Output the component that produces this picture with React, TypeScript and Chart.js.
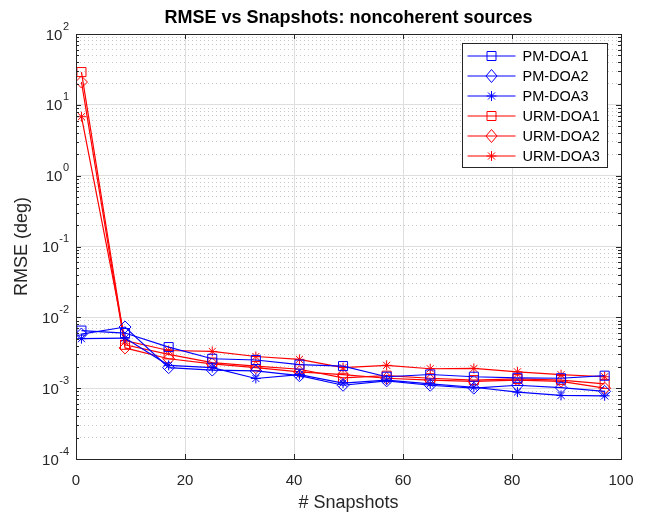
import { useEffect, useRef } from 'react';
import { Chart, registerables } from 'chart.js';

Chart.register(...registerables);

const titleText = 'RMSE vs Snapshots: noncoherent sources';
const xTitle = '# Snapshots';
const yTitle = 'RMSE (deg)';

const snapshots = [1, 9, 17, 25, 33, 41, 49, 57, 65, 73, 81, 89, 97];
const pmDoa1 = [6.5e-3, 6.0e-3, 3.8e-3, 2.6e-3, 2.5e-3, 2.15e-3, 2.05e-3, 1.45e-3, 1.56e-3, 1.45e-3, 1.4e-3, 1.38e-3, 1.5e-3];
const pmDoa2 = [5.8e-3, 7.3e-3, 1.95e-3, 1.8e-3, 1.75e-3, 1.5e-3, 1.1e-3, 1.27e-3, 1.1e-3, 1.0e-3, 1.1e-3, 1.02e-3, 0.9e-3];
const pmDoa3 = [5.0e-3, 5.1e-3, 2.1e-3, 1.95e-3, 1.37e-3, 1.55e-3, 1.18e-3, 1.3e-3, 1.15e-3, 1.03e-3, 0.88e-3, 0.79e-3, 0.78e-3];
const urmDoa1 = [29, 4.1e-3, 3.0e-3, 2.3e-3, 2.05e-3, 1.85e-3, 1.4e-3, 1.5e-3, 1.38e-3, 1.3e-3, 1.35e-3, 1.3e-3, 1.15e-3];
const urmDoa2 = [21, 3.7e-3, 2.6e-3, 2.2e-3, 1.95e-3, 1.7e-3, 1.55e-3, 1.38e-3, 1.3e-3, 1.25e-3, 1.3e-3, 1.25e-3, 1.0e-3];
const urmDoa3 = [6.8, 4.7e-3, 3.4e-3, 3.3e-3, 2.8e-3, 2.55e-3, 1.95e-3, 2.1e-3, 1.88e-3, 1.9e-3, 1.7e-3, 1.55e-3, 1.45e-3];

const seriesNames = ['PM-DOA1', 'PM-DOA2', 'PM-DOA3', 'URM-DOA1', 'URM-DOA2', 'URM-DOA3'];
const seriesValues = [pmDoa1, pmDoa2, pmDoa3, urmDoa1, urmDoa2, urmDoa3];
const seriesColors = ['#0000ff', '#0000ff', '#0000ff', '#ff0000', '#ff0000', '#ff0000'];
const seriesMarkers = ['rect', 'rectRot', 'star', 'rect', 'rectRot', 'star'];

const xTickValues = [0, 20, 40, 60, 80, 100];
const yExponents = [-4, -3, -2, -1, 0, 1, 2];
const yTickBase = '10';
const yTickExponentLabels = ['-4', '-3', '-2', '-1', '0', '1', '2'];

const FONT = "'Liberation Sans', Arial, Helvetica, sans-serif";
const AX = '#262626';

function isPow10(v: number) {
  const l = Math.log10(v);
  return Math.abs(l - Math.round(l)) < 1e-9;
}

function drawMarker(ctx: CanvasRenderingContext2D, style: string, x: number, y: number) {
  ctx.beginPath();
  if (style === 'rect') {
    ctx.rect(x - 4.5, y - 4.5, 9, 9);
  } else if (style === 'rectRot') {
    ctx.moveTo(x, y - 6.5);
    ctx.lineTo(x + 5.5, y);
    ctx.lineTo(x, y + 6.5);
    ctx.lineTo(x - 5.5, y);
    ctx.closePath();
  } else {
    const r = 5;
    for (let k = 0; k < 4; k++) {
      const a = (k * Math.PI) / 4;
      ctx.moveTo(x - r * Math.cos(a), y - r * Math.sin(a));
      ctx.lineTo(x + r * Math.cos(a), y + r * Math.sin(a));
    }
  }
  ctx.stroke();
}

const matlabPlugin = {
  id: 'matlabBox',
  afterDatasetsDraw(chart: any) {
    const { ctx, chartArea: ca, scales } = chart;
    const xs = scales.x;
    const ys = scales.y;
    ctx.save();
    ctx.strokeStyle = AX;
    ctx.lineWidth = 1;
    // inward ticks
    ctx.beginPath();
    ys.ticks.forEach((t: any) => {
      const py = Math.round(ys.getPixelForValue(t.value)) + 0.5;
      const len = isPow10(t.value) ? 5 : 3;
      ctx.moveTo(ca.left, py);
      ctx.lineTo(ca.left + len, py);
      ctx.moveTo(ca.right, py);
      ctx.lineTo(ca.right - len, py);
    });
    xs.ticks.forEach((t: any) => {
      const px = Math.round(xs.getPixelForValue(t.value)) + 0.5;
      ctx.moveTo(px, ca.bottom);
      ctx.lineTo(px, ca.bottom - 5);
      ctx.moveTo(px, ca.top);
      ctx.lineTo(px, ca.top + 5);
    });
    ctx.stroke();
    // box
    ctx.strokeRect(Math.round(ca.left) + 0.5, Math.round(ca.top) + 0.5, Math.round(ca.right - ca.left), Math.round(ca.bottom - ca.top));

    // y tick labels with superscript exponents
    ctx.fillStyle = AX;
    ctx.textBaseline = 'alphabetic';
    ctx.textAlign = 'right';
    yExponents.forEach((e, i) => {
      const py = ys.getPixelForValue(Math.pow(10, e));
      const rightX = ca.left - 7;
      ctx.font = `11px ${FONT}`;
      const expText = yTickExponentLabels[i];
      const ew = ctx.measureText(expText).width;
      ctx.fillText(expText, rightX, py - 4.5);
      ctx.font = `15px ${FONT}`;
      ctx.fillText(yTickBase, rightX - ew - 0.5, py + 5.5);
    });

    // title
    ctx.fillStyle = '#000000';
    ctx.textAlign = 'center';
    ctx.textBaseline = 'middle';
    ctx.font = `bold 18px ${FONT}`;
    ctx.fillText(titleText, (ca.left + ca.right) / 2, 18);

    // legend
    const bw = 145;
    const bh = 124;
    const bx = Math.round(ca.right - 14 - bw) + 0.5;
    const by = Math.round(ca.top + 9) + 0.5;
    ctx.fillStyle = '#ffffff';
    ctx.fillRect(bx, by, bw, bh);
    ctx.strokeStyle = AX;
    ctx.strokeRect(bx, by, bw, bh);
    ctx.font = `14.5px ${FONT}`;
    ctx.textBaseline = 'middle';
    ctx.textAlign = 'left';
    chart.data.datasets.forEach((ds: any, i: number) => {
      const cy = by + 12.5 + i * 20;
      const x0 = bx + 5;
      const x1 = bx + 53;
      ctx.strokeStyle = ds.borderColor;
      ctx.lineWidth = 1.2;
      ctx.beginPath();
      ctx.moveTo(x0, cy);
      ctx.lineTo(x1, cy);
      ctx.stroke();
      ctx.lineWidth = 1;
      drawMarker(ctx, ds.pointStyle, (x0 + x1) / 2, cy);
      ctx.fillStyle = '#000000';
      ctx.fillText(ds.label, bx + 60, cy + 1);
    });
    ctx.restore();
  },
};

export default function App() {
  const ref = useRef<HTMLCanvasElement | null>(null);

  useEffect(() => {
    if (!ref.current) return;
    Chart.defaults.font.family = FONT;
    const datasets = seriesNames.map((name, i) => ({
      label: name,
      data: snapshots.map((s, j) => ({ x: s, y: seriesValues[i][j] })),
      borderColor: seriesColors[i],
      backgroundColor: 'rgba(0,0,0,0)',
      borderWidth: 1.2,
      pointStyle: seriesMarkers[i],
      pointRadius: seriesMarkers[i] === 'star' ? 5 : seriesMarkers[i] === 'rect' ? 6.4 : 6,
      pointBorderWidth: 1,
      pointBorderColor: seriesColors[i],
      pointBackgroundColor: 'rgba(0,0,0,0)',
      tension: 0,
      fill: false,
    }));

    const chart = new Chart(ref.current, {
      type: 'line',
      data: { datasets },
      plugins: [matlabPlugin],
      options: {
        responsive: false,
        animation: false,
        events: [],
        layout: { padding: { left: 0, right: 28, top: 34, bottom: 0 } },
        plugins: {
          legend: { display: false },
          tooltip: { enabled: false },
          title: { display: false },
        },
        scales: {
          x: {
            type: 'linear',
            min: 0,
            max: 100,
            afterBuildTicks: (scale: any) => {
              scale.ticks = xTickValues.map((v) => ({ value: v }));
            },
            afterFit: (scale: any) => {
              scale.height = 56;
            },
            ticks: {
              color: AX,
              font: { size: 15, family: FONT },
              padding: 13,
              autoSkip: false,
              maxRotation: 0,
            },
            grid: {
              color: '#dedede',
              lineWidth: 1,
              drawTicks: false,
            },
            border: { display: false },
            title: {
              display: true,
              text: xTitle,
              color: AX,
              font: { size: 18, family: FONT },
              padding: { top: 0, bottom: 1 },
            },
          },
          y: {
            type: 'logarithmic',
            min: 1e-4,
            max: 100,
            afterBuildTicks: (scale: any) => {
              const ticks: any[] = [];
              yExponents.forEach((e) => {
                for (let m = 1; m <= 9; m++) {
                  const v = m * Math.pow(10, e);
                  if (v > 100.0001) break;
                  ticks.push({ value: v });
                }
              });
              scale.ticks = ticks;
            },
            afterFit: (scale: any) => {
              scale.width = 76;
            },
            ticks: {
              display: true,
              color: 'rgba(0,0,0,0)',
              font: { size: 15, family: FONT },
              padding: 8,
              autoSkip: false,
              callback: () => '',
            },
            grid: {
              color: (ctx: any) => (ctx.tick && isPow10(ctx.tick.value) ? '#dedede' : '#c8c8c8'),
              lineWidth: 1,
              drawTicks: false,
            },
            border: {
              display: false,
              dash: (ctx: any) => (ctx.tick && !isPow10(ctx.tick.value) ? [1, 3] : []),
            },
            title: {
              display: true,
              text: yTitle,
              color: AX,
              font: { size: 18, family: FONT },
              padding: { top: 11, bottom: 0 },
            },
          },
        },
      } as any,
    });
    return () => chart.destroy();
  }, []);

  return (
    <div style={{ position: 'absolute', left: 0, top: 0, width: 649, height: 515, background: '#ffffff' }}>
      <canvas ref={ref} width={649} height={515} />
    </div>
  );
}
